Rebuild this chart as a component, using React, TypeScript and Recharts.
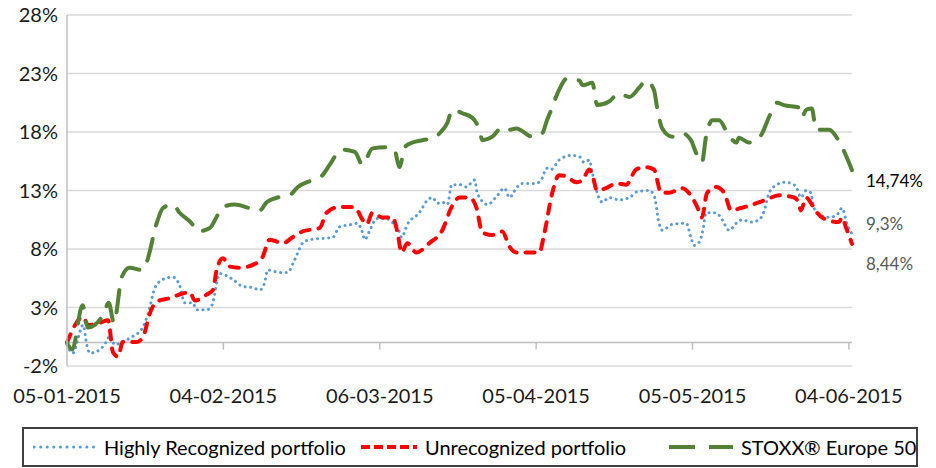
import React from "react";
import {
  LineChart,
  Line,
  XAxis,
  YAxis,
  CartesianGrid,
  ReferenceLine,
  LabelList,
} from "recharts";

// x = days since 05-01-2015
const X_TICKS = [0, 30, 60, 90, 120, 150];
const X_LABELS = ["05-01-2015", "04-02-2015", "06-03-2015", "05-04-2015", "05-05-2015", "04-06-2015"];
const Y_TICKS = [-2, 3, 8, 13, 18, 23, 28];

const stoxxDays = [0, 1, 3, 4, 7, 8, 9, 10.5, 12, 14.4, 15.3, 17.2, 18.4, 20.3, 21.6, 23.9, 25.1, 27.4, 28.9, 29.9, 32.2, 35, 37, 38.3, 40.4, 42.7, 44.3, 47.1, 49, 50.4, 52.7, 55.2, 56.7, 58.6, 61.5, 62.8, 63.8, 64.8, 66.3, 68.2, 70.5, 71.5, 73, 73.9, 75.9, 77.8, 79.1, 79.7, 81.6, 83.5, 84.9, 86.2, 89.3, 91.2, 92, 92.9, 94.4, 96, 98.3, 98.9, 100.8, 101.7, 104, 105.9, 107.9, 109.8, 111.1, 112.6, 113.2, 114.2, 116.1, 118, 119.7, 120.7, 121.8, 122.6, 123.8, 125.1, 126.6, 128.4, 128.9, 130.8, 133.1, 134.7, 136.2, 137.5, 140.4, 141, 141.8, 142.9, 143.7, 146.2, 148.1, 148.7, 150.6];
const stoxxVals = [0.0, -0.6, 3.2, 1.3, 2.4, 3.4, 1.7, 5.6, 6.4, 6.2, 6.9, 10.2, 11.5, 11.8, 11.1, 10.2, 9.5, 9.8, 10.9, 11.6, 11.8, 11.5, 11.3, 12.0, 12.4, 12.6, 13.3, 13.9, 14.3, 15.2, 16.5, 16.3, 15.2, 16.6, 16.7, 16.5, 15.0, 16.7, 17.1, 17.3, 17.5, 17.9, 18.8, 19.9, 19.6, 19.2, 18.2, 17.3, 17.6, 18.4, 18.2, 18.3, 17.6, 17.9, 18.9, 19.9, 21.6, 22.6, 22.4, 22.0, 22.2, 20.3, 20.6, 21.3, 21.0, 21.8, 22.4, 21.6, 20.1, 18.3, 17.6, 17.9, 17.3, 16.2, 15.4, 17.6, 19.0, 19.0, 18.0, 17.1, 17.5, 17.1, 17.7, 19.3, 20.5, 20.3, 20.1, 19.3, 19.9, 20.0, 18.2, 18.2, 17.2, 16.7, 14.74];

const unrecDays = [0, 3.1, 4, 6.3, 7.9, 8.8, 9.8, 10.7, 13.4, 14.6, 15.9, 17.2, 19.7, 22.2, 23.6, 24.5, 26.8, 28, 28.7, 29.9, 31.2, 33.1, 36.4, 37.5, 38.9, 41.4, 43.3, 45.2, 48.5, 49.8, 52.3, 54.8, 55.7, 56.7, 57.5, 58.6, 60.5, 62.5, 63.4, 64.2, 65.3, 67, 69.5, 72, 73.8, 75.3, 77.2, 78.5, 79.7, 81.6, 83.5, 84.9, 86.2, 90.6, 91.6, 93.1, 94.4, 95.8, 97.7, 98.9, 100.2, 100.8, 101.7, 103.4, 105.4, 107.3, 109.2, 111.1, 112.6, 114, 115.5, 118, 119.3, 120.9, 121.8, 122.8, 124.5, 126.1, 127.4, 129.3, 134.1, 136.6, 139.5, 140.4, 140.8, 141.8, 142.9, 143.9, 145.2, 148.1, 148.7, 149.4, 150.6];
const unrecVals = [0.0, 2.2, 1.5, 1.7, 1.9, -0.8, -1.2, 0.05, 0.05, 0.5, 2.5, 3.5, 3.8, 4.2, 4.3, 3.6, 4.1, 4.5, 6.2, 7.2, 6.5, 6.4, 6.8, 7.3, 8.8, 8.5, 9.0, 9.5, 9.8, 11.1, 11.6, 11.6, 11.3, 10.5, 10.1, 11.1, 10.7, 10.7, 9.4, 7.7, 8.5, 7.7, 8.5, 9.6, 11.6, 12.4, 12.4, 11.6, 9.4, 9.2, 9.5, 8.2, 7.7, 7.7, 9.4, 12.8, 14.3, 14.2, 13.7, 13.9, 14.8, 14.3, 13.0, 13.2, 13.6, 13.5, 14.8, 15.0, 14.8, 12.8, 12.8, 13.2, 12.8, 11.6, 10.7, 12.8, 13.3, 12.8, 11.3, 11.5, 12.2, 12.6, 12.4, 11.9, 11.3, 12.4, 11.8, 11.1, 10.6, 10.3, 10.7, 9.9, 8.44];

const highDays = [0, 1.1, 3.1, 3.8, 4.4, 6.3, 7.7, 8.2, 9.2, 10.5, 12.5, 14.4, 15.5, 16.9, 18.4, 20.3, 21.6, 22.6, 24.1, 24.9, 26.8, 27.8, 29.3, 31.8, 33.7, 35.6, 37, 37.9, 38.5, 40.8, 42.3, 43.7, 45.2, 46.6, 51, 52.3, 54.6, 55.7, 56.7, 57.1, 58, 59.4, 61.3, 62.3, 63.4, 64.2, 65.3, 67.6, 69.2, 70.1, 71.1, 72, 73, 73.8, 75.3, 76.6, 78.2, 78.7, 80.7, 82.6, 83.9, 84.9, 86.2, 87.2, 90, 91.2, 92, 92.9, 94.4, 96.7, 98.3, 99.2, 100.2, 100.8, 101.7, 102.7, 104, 105.9, 107.9, 109.4, 111.7, 112.6, 113.6, 114.2, 116.1, 118.8, 119.7, 120.3, 121.3, 122, 122.6, 124.5, 125.7, 127, 128.4, 129.5, 131.2, 132.8, 133.7, 134.7, 136.2, 137.5, 139.1, 140, 140.8, 141.8, 142.7, 143.3, 144.6, 146.2, 147.7, 148.7, 149.6, 150.6];
const highVals = [-0.2, -0.9, 1.5, -0.2, -0.9, -0.6, 0.2, 0.6, -0.2, 0.05, 0.5, 1.2, 2.4, 4.7, 5.4, 5.6, 4.9, 3.4, 3.4, 2.8, 2.8, 3.2, 5.9, 5.4, 4.8, 4.7, 4.5, 5.1, 6.2, 6.0, 6.0, 7.1, 8.5, 8.8, 9.0, 9.9, 10.1, 10.2, 9.4, 8.8, 9.5, 10.6, 10.6, 10.3, 9.9, 9.0, 10.1, 11.1, 12.2, 12.4, 11.9, 12.0, 11.8, 13.5, 13.5, 13.3, 13.9, 12.8, 11.8, 12.6, 13.2, 12.4, 13.2, 13.6, 13.6, 14.1, 14.9, 14.8, 15.6, 16.0, 15.9, 15.4, 15.6, 14.5, 12.8, 12.0, 12.4, 12.2, 12.4, 12.9, 13.0, 12.6, 10.2, 9.6, 10.1, 10.2, 9.0, 8.3, 8.6, 9.6, 11.1, 11.1, 10.5, 9.6, 10.2, 10.5, 10.3, 10.5, 11.2, 12.8, 13.5, 13.7, 13.6, 13.2, 12.4, 13.0, 12.8, 11.5, 10.9, 10.7, 10.9, 11.5, 10.2, 9.3];

const toRows = (days: number[], vals: number[]) => days.map((d, i) => ({ d, v: vals[i] }));

const BLUE = "#5b9bd5";
const RED = "#ff0000";
const GREEN = "#538135";
const FONT = "Lato, 'Open Sans', sans-serif";

const endLabel = (last: number, dy: number, color: string) => (props: any) => {
  const { x, y, value, index } = props;
  if (index !== last) return null;
  return (
    <text
      x={x + 14}
      y={y + dy}
      fill={color}
      fontSize={17}
      fontFamily={FONT}
      dominantBaseline="central"
    >
      {String(value).replace(".", ",")}%
    </text>
  );
};

const LegendItem = ({ left, lineW, color, dash, width, cap, label }: any) => (
  <div style={{ position: "absolute", left, top: 0, height: "100%", display: "flex", alignItems: "center", gap: 7 }}>
    <svg width={lineW} height={10}>
      <line x1={1} y1={5} x2={lineW - 1} y2={5} stroke={color} strokeWidth={width} strokeDasharray={dash} strokeLinecap={cap} />
    </svg>
    <span style={{ whiteSpace: "nowrap" }}>{label}</span>
  </div>
);

export default function App() {
  return (
    <div style={{ position: "absolute", left: 0, top: 0, width: 936, height: 468, background: "#fff", fontFamily: FONT }}>
      <LineChart width={936} height={468} margin={{ top: 15, right: 84, bottom: 0, left: 0 }}>
        <CartesianGrid vertical={false} stroke="#d9d9d9" strokeWidth={1.5} />
        <XAxis
          dataKey="d"
          type="number"
          domain={[0, 150.6]}
          ticks={X_TICKS}
          tickFormatter={(v: number) => X_LABELS[X_TICKS.indexOf(v)]}
          axisLine={false}
          tickLine={false}
          tickMargin={17}
          height={102}
          interval={0}
          tick={{ fill: "#1a1a1a", fontSize: 20, fontFamily: FONT }}
        />
        <YAxis
          type="number"
          domain={[-2, 28]}
          ticks={Y_TICKS}
          tickFormatter={(v: number) => `${v}%`}
          width={67}
          axisLine={{ stroke: "#bfbfbf", strokeWidth: 1.5 }}
          tickLine={false}
          tickMargin={3}
          tick={{ fill: "#1a1a1a", fontSize: 20, fontFamily: FONT }}
        />
        <ReferenceLine y={0} stroke="#bfbfbf" strokeWidth={1.5} />
        {X_TICKS.slice(1).map((t) => (
          <ReferenceLine key={t} segment={[{ x: t, y: 0 }, { x: t, y: -0.6 }]} stroke="#bfbfbf" strokeWidth={1.5} />
        ))}
        <Line
          data={toRows(highDays, highVals)}
          dataKey="v"
          type="monotone"
          stroke={BLUE}
          strokeWidth={3}
          strokeDasharray="0.1 5.5"
          strokeLinecap="round"
          dot={false}
          isAnimationActive={false}
        >
          <LabelList dataKey="v" content={endLabel(highDays.length - 1, -10, "#595959")} />
        </Line>
        <Line
          data={toRows(unrecDays, unrecVals)}
          dataKey="v"
          type="monotone"
          stroke={RED}
          strokeWidth={4}
          strokeDasharray="9 9"
          strokeLinecap="round"
          dot={false}
          isAnimationActive={false}
        >
          <LabelList dataKey="v" content={endLabel(unrecDays.length - 1, 20, "#595959")} />
        </Line>
        <Line
          data={toRows(stoxxDays, stoxxVals)}
          dataKey="v"
          type="monotone"
          stroke={GREEN}
          strokeWidth={4}
          strokeDasharray="22 14"
          strokeLinecap="round"
          dot={false}
          isAnimationActive={false}
        >
          <LabelList dataKey="v" content={endLabel(stoxxDays.length - 1, 10, "#000")} />
        </Line>
      </LineChart>
      <div
        style={{
          position: "absolute",
          left: 22,
          top: 427,
          width: 896,
          height: 40,
          border: "2px solid #404040",
          boxSizing: "border-box",
          fontSize: 20,
          color: "#000",
        }}
      >
        <LegendItem left={9} lineW={64} color={BLUE} dash="0.1 6.5" width={3} cap="round" label="Highly Recognized portfolio" />
        <LegendItem left={336} lineW={58} color={RED} dash="9 4" width={4} cap="butt" label="Unrecognized portfolio" />
        <LegendItem left={644} lineW={66} color={GREEN} dash="26 14" width={4} cap="butt" label={"STOXX\u00ae Europe 50"} />
      </div>
    </div>
  );
}
